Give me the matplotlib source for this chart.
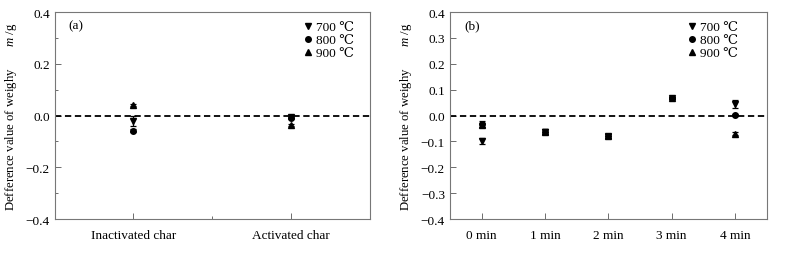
import matplotlib
matplotlib.use("Agg")
import matplotlib.pyplot as plt
from matplotlib.lines import Line2D
import numpy as np

plt.rcParams['font.family'] = ['Liberation Serif', 'DejaVu Serif', 'DejaVu Sans']
plt.rcParams['mathtext.fontset'] = 'custom'
plt.rcParams['mathtext.it'] = 'Liberation Serif:italic'

temps = ["700 ℃", "800 ℃", "900 ℃"]
markers = ["v", "o", "^"]

# Panel (a)
cats_a = ["Inactivated char", "Activated char"]
a_700 = [-0.020, -0.005]
a_700_err = [0.020, 0.005]
a_800 = [-0.058, -0.010]
a_800_err = [0.006, 0.004]
a_900 = [0.040, -0.035]
a_900_err = [0.004, 0.004]

# Panel (b)
cats_b = ["0 min", "1 min", "2 min", "3 min", "4 min"]
b_700 = [-0.098, -0.062, -0.080, 0.068, 0.045]
b_700_err = [0.012, 0.010, 0.008, 0.005, 0.015]
b_800 = [-0.033, -0.062, -0.080, 0.068, 0.002]
b_800_err = [0.010, 0.010, 0.008, 0.005, 0.004]
b_900 = [-0.038, -0.062, -0.080, 0.068, -0.070]
b_900_err = [0.008, 0.010, 0.008, 0.005, 0.005]

fig = plt.figure(figsize=(7.92, 2.55), dpi=100)
axa = fig.add_axes([0.069, 0.137, 0.398, 0.812])
axb = fig.add_axes([0.568, 0.137, 0.400, 0.812])

ylabel = "Defference value of weighy       $m$ /g"

def draw(ax, cats, series, errs, label, yticks, minor, leg_x):
    x = np.arange(len(cats))
    for vals, err, m, t in zip(series, errs, markers, temps):
        ax.errorbar(x, vals, yerr=err, fmt=m, color='black', ms=4,
                    capsize=2.5, elinewidth=0.9, capthick=0.9)
    ax.axhline(0, color='black', ls=(0, (3.5, 2)), lw=1.3)
    ax.set_xlim(-0.5, len(cats) - 0.5)
    ax.set_ylim(-0.4, 0.4)
    ax.set_xticks(x)
    ax.set_xticklabels(cats)
    ax.set_yticks(yticks)
    ax.set_yticklabels(["\u22120.%d" % int(round(-v * 10)) if v < 0 else "%.1f" % v for v in yticks])
    if minor:
        ax.set_yticks(np.arange(-0.3, 0.4, 0.2), minor=True)
        ax.set_xticks([0.5], minor=True)
    ax.tick_params(direction='in', which='both', labelsize=9.5, length=4, width=0.6, color='#555555')
    ax.tick_params(which='minor', length=2.5)
    ax.tick_params(axis='x', pad=7)
    for s in ax.spines.values():
        s.set_color('#777777')
        s.set_linewidth(0.8)
    ax.set_ylabel(ylabel, fontsize=9.2, labelpad=5)
    ax.text(0.045, 0.935, label, transform=ax.transAxes, fontsize=9.5, va='center')
    handles = [Line2D([], [], marker=m, color='black', ls='none', ms=4) for m in markers]
    ax.legend(handles, temps, loc='upper right', frameon=False, fontsize=9.5, handlelength=0.6,
              handletextpad=0.3, labelspacing=0.05, borderaxespad=0.3,
              bbox_to_anchor=(leg_x, 1.0))

draw(axa, cats_a, [a_700, a_800, a_900], [a_700_err, a_800_err, a_900_err], "(a)",
     [-0.4, -0.2, 0.0, 0.2, 0.4], True, 0.98)
draw(axb, cats_b, [b_700, b_800, b_900], [b_700_err, b_800_err, b_900_err], "(b)",
     [-0.4, -0.3, -0.2, -0.1, 0.0, 0.1, 0.2, 0.3, 0.4], False, 0.94)

fig.savefig("out.png", dpi=100)
